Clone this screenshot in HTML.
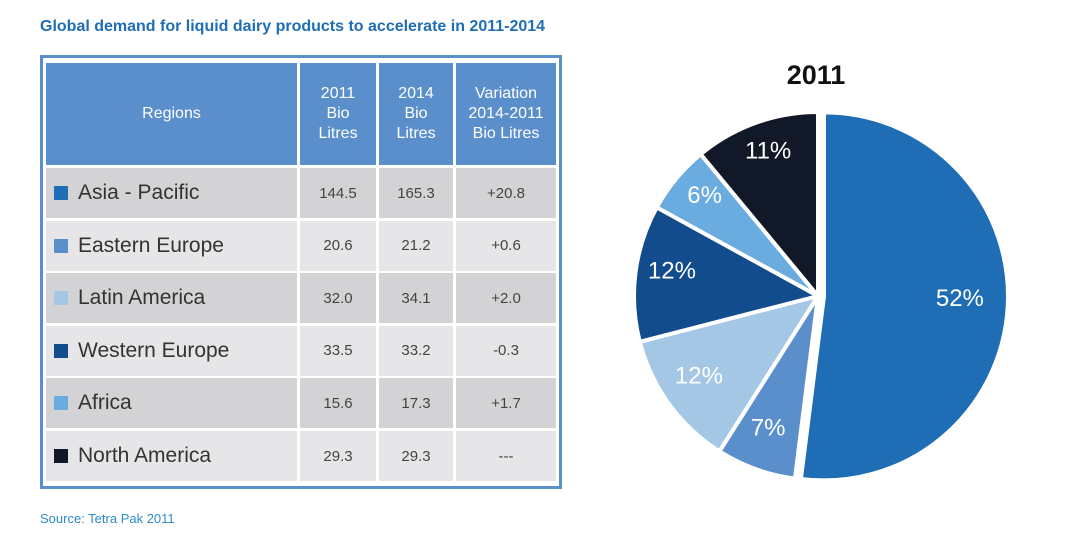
<!DOCTYPE html>
<html><head><meta charset="utf-8"><style>
body{margin:0;width:1082px;height:556px;background:#fff;position:relative;font-family:"Liberation Sans",sans-serif;overflow:hidden}
.a{position:absolute}
.c{position:absolute;display:flex;align-items:center;justify-content:center;color:#444;font-size:15px}
.h{background:#5b8fcc;color:#fff;text-align:center;line-height:20px;font-size:16px}
.r{justify-content:flex-start;font-size:21px;color:#333}
.sw{display:inline-block;width:14px;height:14px;margin:0 10px 0 8px}
</style></head><body>
<div class="a" style="left:40px;top:18px;font-size:16px;font-weight:bold;color:#1f6db5">Global demand for liquid dairy products to accelerate in 2011-2014</div>
<div class="a" style="left:40px;top:55px;width:516px;height:428px;border:3px solid #5b8fcc"></div>
<div id="tbl"></div>
<div class="a" style="left:40px;top:511px;font-size:13px;color:#2e8bc6">Source: Tetra Pak 2011</div>
<svg class="a" style="left:0;top:0" width="1082" height="556">
<text x="816" y="84" text-anchor="middle" font-size="27" font-weight="bold" fill="#111">2011</text>
<g id="pie"></g></svg>
<script>
const regions=["Asia - Pacific","Eastern Europe","Latin America","Western Europe","Africa","North America"];
const v2011=["144.5","20.6","32.0","33.5","15.6","29.3"];
const v2014=["165.3","21.2","34.1","33.2","17.3","29.3"];
const variation=["+20.8","+0.6","+2.0","-0.3","+1.7","---"];
const shares=[52,7,12,12,6,11];
const colors=["#1f6db5","#5b8fcc","#a4c7e6","#134c8c","#6aace0","#111827"];
const tbl=document.getElementById('tbl');
const cols=[[46,251],[300,76],[379,74],[456,100]];
function cell(x,y,w,h,cls,html,bg,name){const d=document.createElement('div');d.className='c '+cls;d.style.left=x+'px';d.style.top=y+'px';d.style.width=w+'px';d.style.height=h+'px';if(bg)d.style.background=bg;d.innerHTML=html;


tbl.appendChild(d);}
const hdr=["Regions","2011<br>Bio<br>Litres","2014<br>Bio<br>Litres","Variation<br>2014-2011<br>Bio Litres"];
hdr.forEach((t,i)=>cell(cols[i][0],63,cols[i][1],102,'h',t,null,'header-cell'));
regions.forEach((r,i)=>{const y=168+i*52.6,bg=i%2?'#e6e6e8':'#d3d3d5';
cell(cols[0][0],y,cols[0][1],50,'r','<span class="sw" style="background:'+colors[i]+'"></span>'+r,bg,'region-cell');
[v2011[i],v2014[i],variation[i]].forEach((t,j)=>cell(cols[j+1][0],y,cols[j+1][1],50,'',t,bg,'value-cell'));});
const g=document.getElementById('pie');const cx=818,cy=296,R=184;
const tot=shares.reduce((a,b)=>a+b,0);let a0=0;
shares.forEach((s,i)=>{const a1=a0+s/tot*2*Math.PI,mid=(a0+a1)/2;
const off=i===0?6:0,ox=cx+off*Math.sin(mid),oy=cy-off*Math.cos(mid);
const p=(a)=>[ox+R*Math.sin(a),oy-R*Math.cos(a)];const [x0,y0]=p(a0),[x1,y1]=p(a1);
const path=document.createElementNS('http://www.w3.org/2000/svg','path');
path.setAttribute('d',`M${ox},${oy}L${x0},${y0}A${R},${R} 0 ${a1-a0>Math.PI?1:0} 1 ${x1},${y1}Z`);
path.setAttribute('fill',colors[i]);path.setAttribute('stroke','#fff');path.setAttribute('stroke-width','4');


g.appendChild(path);
const lr=i===0?R*0.74:R*0.8;
const t=document.createElementNS('http://www.w3.org/2000/svg','text');
t.setAttribute('x',ox+lr*Math.sin(mid));t.setAttribute('y',oy-lr*Math.cos(mid)+1);
t.setAttribute('text-anchor','middle');t.setAttribute('font-size','24');t.setAttribute('fill','#fff');
t.textContent=s+'%';


g.appendChild(t);a0=a1;});
</script>
</body></html>
